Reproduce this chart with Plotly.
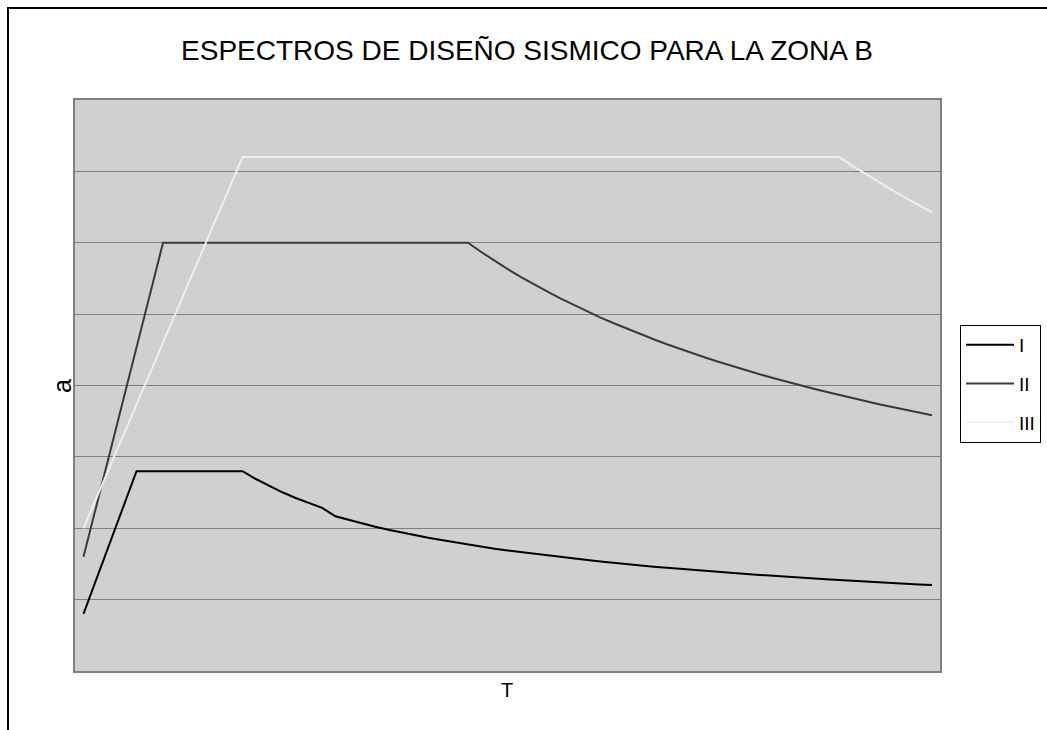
import plotly.graph_objects as go

# Periods T (s); the original table jumps from 0.90 straight to 1.00
periods = [0.0, 0.05, 0.1, 0.15, 0.2, 0.25, 0.3, 0.35, 0.4, 0.45, 0.5, 0.55, 0.6,
           0.65, 0.7, 0.75, 0.8, 0.85, 0.9,
           1.0, 1.05, 1.1, 1.15, 1.2, 1.25, 1.3, 1.35, 1.4, 1.45, 1.5, 1.55, 1.6,
           1.65, 1.7, 1.75, 1.8, 1.85, 1.9, 1.95, 2.0, 2.05, 2.1, 2.15, 2.2, 2.25,
           2.3, 2.35, 2.4, 2.45, 2.5, 2.55, 2.6, 2.65, 2.7, 2.75, 2.8, 2.85, 2.9,
           2.95, 3.0, 3.05, 3.1, 3.15, 3.2, 3.25]

# Spectral ordinates a for soil types I, II and III
suelo_I = [0.04, 0.065, 0.09, 0.115, 0.14, 0.14, 0.14, 0.14, 0.14, 0.14, 0.14, 0.14, 0.14,
           0.1345, 0.1296, 0.1252, 0.1212, 0.1176, 0.1143,
           0.1084, 0.1058, 0.1034, 0.1011, 0.0990, 0.0970, 0.0951, 0.0933, 0.0917, 0.0901,
           0.0885, 0.0871, 0.0857, 0.0844, 0.0832, 0.0820, 0.0808, 0.0797, 0.0787, 0.0777,
           0.0767, 0.0757, 0.0748, 0.0740, 0.0731, 0.0723, 0.0715, 0.0707, 0.0700, 0.0693,
           0.0686, 0.0679, 0.0673, 0.0666, 0.0660, 0.0654, 0.0648, 0.0642, 0.0637, 0.0631,
           0.0626, 0.0621, 0.0616, 0.0611, 0.0606, 0.0602]

suelo_II = [0.08, 0.1167, 0.1533, 0.19, 0.2267, 0.2633, 0.30,
            0.30, 0.30, 0.30, 0.30, 0.30, 0.30, 0.30, 0.30, 0.30, 0.30, 0.30, 0.30,
            0.30, 0.30, 0.30, 0.30, 0.30, 0.30, 0.30, 0.30, 0.30, 0.30, 0.30,
            0.2935, 0.2874, 0.2815, 0.2760, 0.2707, 0.2657, 0.2609, 0.2563, 0.2519, 0.2476,
            0.2436, 0.2397, 0.2360, 0.2324, 0.2289, 0.2256, 0.2224, 0.2193, 0.2163, 0.2134,
            0.2106, 0.2079, 0.2053, 0.2027, 0.2003, 0.1979, 0.1956, 0.1933, 0.1911, 0.1890,
            0.1869, 0.1849, 0.1829, 0.1810, 0.1792]

suelo_III = [0.10, 0.1217, 0.1433, 0.165, 0.1867, 0.2083, 0.23, 0.2517, 0.2733, 0.295,
             0.3167, 0.3383, 0.36,
             0.36, 0.36, 0.36, 0.36, 0.36, 0.36,
             0.36, 0.36, 0.36, 0.36, 0.36, 0.36, 0.36, 0.36, 0.36, 0.36, 0.36, 0.36, 0.36,
             0.36, 0.36, 0.36, 0.36, 0.36, 0.36, 0.36, 0.36, 0.36, 0.36, 0.36, 0.36, 0.36,
             0.36, 0.36, 0.36, 0.36, 0.36, 0.36, 0.36, 0.36, 0.36, 0.36, 0.36, 0.36, 0.36,
             0.3539, 0.3480, 0.3423, 0.3368, 0.3314, 0.3263, 0.3212]

series = [("I", suelo_I, "#000000"), ("II", suelo_II, "#3a3a3a"), ("III", suelo_III, "#efefef")]

categories = [f"{t:.2f}" for t in periods]

FONT = "Liberation Sans, Arial, sans-serif"

fig = go.Figure()
for name, vals, color in series:
    fig.add_trace(go.Scatter(
        x=categories, y=vals, mode="lines", name=name,
        legendgroup=name,
        line=dict(color=color, width=2),
    ))

W, H = 1047, 730
L, R, T, B = 75, 107, 100, 59
pw, ph = W - L - R, H - T - B


def px_x(p):
    return (p - L) / pw


def px_y(p):
    return (H - B - p) / ph


fig.update_layout(
    width=W, height=H,
    margin=dict(l=L, r=R, t=T, b=B, pad=0, autoexpand=False),
    paper_bgcolor="white",
    plot_bgcolor="#d0d0d0",
    font=dict(family=FONT, color="black"),
    title=dict(text="ESPECTROS DE DISEÑO SISMICO PARA LA ZONA B",
               font=dict(size=28, family=FONT, color="black"),
               xref="paper", x=px_x(527), xanchor="center",
               yref="container", y=1 - 50 / H, yanchor="middle"),
    showlegend=True,
    legend=dict(x=px_x(960), xanchor="left", y=px_y(384), yanchor="middle",
                bgcolor="white", bordercolor="#000000", borderwidth=1,
                font=dict(size=19, family=FONT, color="black"),
                tracegroupgap=11, itemwidth=48),
    xaxis=dict(type="category", range=[-0.64, 64.6], showticklabels=False,
               ticks="", showgrid=False, zeroline=False,
               showline=True, linecolor="#808080", linewidth=2, mirror=True),
    yaxis=dict(range=[0, 0.4], dtick=0.05, showticklabels=False, ticks="",
               showgrid=True, gridcolor="#808080", gridwidth=1, zeroline=False,
               showline=True, linecolor="#808080", linewidth=2, mirror=True),
    annotations=[
        dict(text="a", textangle=-90, xref="paper", yref="paper",
             x=px_x(62), y=px_y(386), xanchor="center", yanchor="middle",
             showarrow=False, font=dict(size=25, family=FONT, color="black")),
        dict(text="T", xref="paper", yref="paper",
             x=px_x(507), y=px_y(690), xanchor="center", yanchor="middle",
             showarrow=False, font=dict(size=20, family=FONT, color="black")),
    ],
    shapes=[
        # chart-area frame
        dict(type="rect", xref="paper", yref="paper", layer="below",
             x0=px_x(8), x1=px_x(1070), y0=px_y(760), y1=px_y(8),
             line=dict(color="#000000", width=2), fillcolor="rgba(0,0,0,0)"),
    ],
)

fig.write_html("out.html")
